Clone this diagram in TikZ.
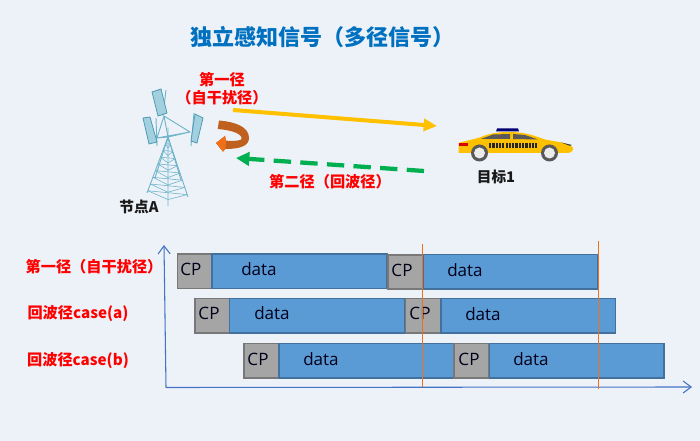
\documentclass[tikz,border=0pt]{standalone}
\usepackage{fontspec}
\setmainfont{Noto Sans CJK SC}
\newfontfamily\latinf{Open Sans}
\definecolor{bgc}{HTML}{EDF2F9}
\definecolor{titlec}{HTML}{0070C0}
\definecolor{datac}{HTML}{5B9BD5}
\definecolor{datab}{HTML}{41719C}
\definecolor{cpc}{HTML}{A5A5A5}
\definecolor{cpb}{HTML}{787878}
\definecolor{axisc}{HTML}{4472C4}
\definecolor{vline}{HTML}{F0701A}
\definecolor{yel}{HTML}{FFC000}
\definecolor{grn}{HTML}{00B050}
\definecolor{towerc}{HTML}{6FB4CA}
\definecolor{panelc}{HTML}{A3D0DF}
\definecolor{panelb}{HTML}{4F9CB4}
\definecolor{turn}{HTML}{C0601F}
\usetikzlibrary{arrows.meta}
\tikzset{
  databar/.style={draw=datab,fill=datac,line width=0.9pt},
  cpbar/.style={draw=cpb,fill=cpc,line width=0.9pt},
  bartext/.style={font=\latinf\fontsize{12.8pt}{14pt}\selectfont,text=black!90!blue,inner sep=0pt},
  redlab/.style={font=\bfseries\fontsize{11.4pt}{13.5pt}\selectfont,text=red,inner sep=0pt,align=center},
  blacklab/.style={font=\bfseries\fontsize{11pt}{13pt}\selectfont,text=black!90,inner sep=0pt},
  axisline/.style={draw=axisc,line width=0.8pt,-{Straight Barb[length=6pt,width=9pt]}},
  marker/.style={draw=vline,line width=0.9pt},
  tw/.style={draw=towerc,line width=0.7pt},
  twthin/.style={draw=towerc,line width=0.45pt},
  panel/.style={draw=panelb,fill=panelc,line width=0.6pt},
}
\begin{document}
\begin{tikzpicture}[x=0.75pt,y=-0.75pt]
\useasboundingbox (0,0) rectangle (700,441);
\fill[bgc] (0,0) rectangle (700,441);
% title
\node[font=\bfseries\fontsize{16.5pt}{18pt}\selectfont,text=titlec,inner sep=0pt] (title) at (322,37) {独立感知信号（多径信号）};
% tower
\draw[tw] (168,137)--(147,193) (168,137)--(188,197) (168,128)--(168,206);
\foreach \t in {0.12,0.24,0.36,0.48,0.6,0.72,0.84,0.96}{
  \draw[twthin] ({168-21*\t},{137+56*\t}) -- (168,{137+61*\t+4}) -- ({168+20*\t},{137+60*\t});
  \draw[twthin] ({168-21*\t},{137+56*\t}) -- ({168+20*\t},{137+60*\t});
}
\draw[tw] (168,137)--(155,178) (168,137)--(181,180);
\draw[tw] (164,116)--(157,138)--(190,132)--(164,116) (164,116)--(168,137)--(190,132) (157,138)--(168,137);
\draw[tw] (166,90)--(163,116) (156,118)--(157,146) (194,113)--(191,146);
\draw[panel] (152,92)--(161,89)--(167,113)--(158,116)--cycle;
\draw[panel] (143,118)--(150,117)--(157,142)--(149,144)--cycle;
\draw[panel] (195,114)--(203,118)--(197,143)--(191,141)--cycle;
% curved arrow
\path[fill=turn] (219,120.5) .. controls (236,122) and (249,127) .. (249,138)
  .. controls (249,146) and (240,149) .. (225.3,149)
  -- (223,151.7) -- (216,143) -- (225,136) -- (226,140.7)
  .. controls (235,141) and (242,141) .. (241.7,138.3)
  .. controls (241,133) and (230,130) .. (217.7,129) -- cycle;
\path[fill=vline] (225.3,149) -- (223,151.7) -- (216,143) -- (225,136) -- (226,140.7) -- cycle;
% car
\fill[yel] (458.5,143) .. controls (465,141) and (475,139) .. (481,137)
  .. controls (490,133) and (500,132) .. (510,132)
  .. controls (525,132) and (535,136) .. (545,139.5)
  .. controls (558,142) and (570,143) .. (573,148)
  .. controls (573,152) and (571,153) .. (565,153)
  -- (458.5,153) -- cycle;
\fill[blue!45!black] (496,131.5) -- (497,128.5) -- (518,128.5) -- (519,131.5) -- cycle;
\fill[black!65] (481,139) -- (493,134.5) -- (510,134) -- (510,139) -- cycle;
\fill[black!65] (513,134) -- (525,135) -- (538,139.5) -- (513,139) -- cycle;
\fill[red!85!black] (458.5,143.5) rectangle (468,146);
\fill[black!80] (561,142.5) -- (572,145) -- (570,145.8) -- cycle;
\foreach \i in {0,...,14}{
  \fill[black!85] ({489+\i*3.3},{143.5+mod(\i,2)*2.2}) rectangle ++(2.2,2.2);
  \fill[black!85] ({489+\i*3.3},{147.9-mod(\i,2)*2.2}) rectangle ++(2.2,-2.2);
}
\foreach \c in {479.5,549.5}{
  \fill[black!65] (\c,153) circle (8.5);
  \fill[white!92!black] (\c,153) circle (5.5);
}
% arrows
\coordinate (ya) at (233,110);
\coordinate (yb) at (437,126);
\coordinate (ga) at (424,171);
\coordinate (gb) at (236,158);
\draw[draw=yel,line width=3pt,-{Triangle[length=10pt,width=9pt]}] (ya)--(yb);
\draw[draw=grn,line width=3.2pt,dash pattern=on 13pt off 7pt,-{Triangle[length=10pt,width=10pt]}] (ga)--(gb);
% labels
\node[redlab] (l1) at (222,89) {第一径\\（自干扰径）};
\node[redlab] (l2) at (330,182) {第二径（回波径）};
\node[blacklab] (l3) at (139,207) {节点A};
\node[blacklab] (l4) at (496,177) {目标1};
\node[redlab] (r1) at (94,267) {第一径（自干扰径）};
\node[redlab] (r2) at (78,314) {回波径case(a)};
\node[redlab] (r3) at (78,361) {回波径case(b)};
% bars
\draw[cpbar] (177.5,254) rectangle (212,288.5);
\draw[databar] (212,254) rectangle (387,288.5);
\draw[cpbar] (388,255) rectangle (423,289);
\draw[databar] (423,254.5) rectangle (598,289);
\draw[cpbar] (195,298.5) rectangle (229.5,333);
\draw[databar] (229.5,298.5) rectangle (405,333);
\draw[cpbar] (405.5,298.5) rectangle (440.5,333);
\draw[databar] (441,298.5) rectangle (615.5,333);
\draw[cpbar] (244,343.5) rectangle (279,378);
\draw[databar] (279,343.5) rectangle (454,378);
\draw[cpbar] (454,343.5) rectangle (489,378);
\draw[databar] (489.5,343.5) rectangle (664,378);
\foreach \x/\y/\t in {191/269/CP,402/270/CP,209/313/CP,420/313/CP,258/359/CP,469/359/CP,
  259/269/data,465/270/data,272/313/data,483/314/data,321/359/data,531/359/data}{
  \node[bartext] at (\x,\y) {\t};
}
% axes
\coordinate (o) at (166,387.5);
\coordinate (ytop) at (164,245);
\coordinate (xend) at (692,387);
\draw[axisline] (o)--(ytop);
\draw[axisline] (o)--(xend);
% markers
\coordinate (m1a) at (422.5,244); \coordinate (m1b) at (422.5,387);
\coordinate (m2a) at (598.5,241); \coordinate (m2b) at (598.5,389);
\draw[marker] (m1a)--(m1b);
\draw[marker] (m2a)--(m2b);
\end{tikzpicture}
\end{document}
